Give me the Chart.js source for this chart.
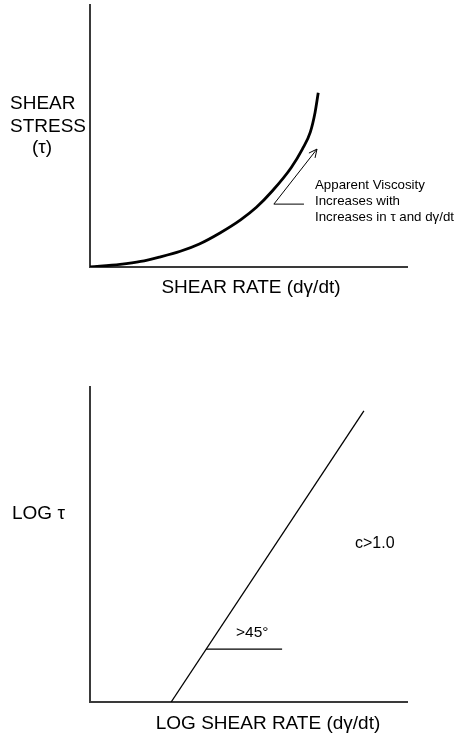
<!DOCTYPE html>
<html>
<head>
<meta charset="utf-8">
<script src="https://cdn.jsdelivr.net/npm/chart.js@4.4.1/dist/chart.umd.min.js"></script>
<style>
  body { margin: 0; background: #fff; width: 456px; height: 733px; overflow: hidden; }
  canvas { position: absolute; left: 0; }
  #top { top: 0; }
  #bottom { top: 300px; }
</style>
</head>
<body>
<canvas id="top" width="456" height="300"></canvas>
<canvas id="bottom" width="456" height="433"></canvas>
<script>
// top panel: shear stress vs shear rate (arbitrary units 0-10)
var shearRate = [0, 0.95, 1.6, 2.2, 2.85, 3.45, 4.1, 4.75, 5.25, 5.75, 6.35, 6.7, 6.95, 7.1, 7.2];
var shearStress = [0, 0.1, 0.21, 0.38, 0.6, 0.88, 1.3, 1.8, 2.28, 2.9, 3.8, 4.5, 5.15, 5.9, 6.65];
var arrowX = [5.8, 7.16];
var arrowY = [2.4, 4.5];
var arrowTailX = [5.8, 6.75];
var arrowTailY = [2.4, 2.4];

// bottom panel: log shear stress vs log shear rate
var logRate = [2.56, 8.64];
var logStress = [0, 9.24];
var angleRefX = [3.66, 6.06];
var angleRefY = [1.68, 1.68];

var FONT = '"Liberation Sans", Arial, sans-serif';

var toPoints = function(xs, ys) {
	return xs.map(function(x, i) {
		return { x: x, y: ys[i] };
	});
};

var lineSet = function(xs, ys, width, smooth) {
	return {
		data: toPoints(xs, ys),
		showLine: true,
		borderColor: '#000',
		borderWidth: width,
		pointRadius: 0,
		cubicInterpolationMode: smooth ? 'monotone' : 'default',
		tension: smooth ? 0.4 : 0,
		borderCapStyle: 'butt',
		fill: false
	};
};

var axisOpts = function() {
	return {
		type: 'linear',
		min: 0,
		max: 10,
		grid: { display: false, drawTicks: false },
		ticks: { display: false },
		border: { display: true, color: '#3a3a3a', width: 2 }
	};
};

// @desc draws text labels (and optional arrow head) after datasets
var textPlugin = function(labels, arrow) {
	return {
		id: 'texts',
		afterDatasetsDraw: function(chart) {
			var ctx = chart.ctx;
			ctx.save();
			ctx.fillStyle = '#000';
			ctx.textBaseline = 'alphabetic';
			labels.forEach(function(l) {
				ctx.font = l.size + 'px ' + FONT;
				ctx.textAlign = l.align || 'left';
				ctx.fillText(l.text, l.x, l.y);
			});
			if (arrow) {
				var xs = chart.scales.x, ys = chart.scales.y;
				var x0 = xs.getPixelForValue(arrow.x[0]), y0 = ys.getPixelForValue(arrow.y[0]);
				var x1 = xs.getPixelForValue(arrow.x[1]), y1 = ys.getPixelForValue(arrow.y[1]);
				var a = Math.atan2(y1 - y0, x1 - x0);
				var len = 9, spread = 0.45;
				ctx.strokeStyle = '#000';
				ctx.lineWidth = 1;
				ctx.beginPath();
				ctx.moveTo(x1 - len * Math.cos(a - spread), y1 - len * Math.sin(a - spread));
				ctx.lineTo(x1, y1);
				ctx.lineTo(x1 - len * Math.cos(a + spread), y1 - len * Math.sin(a + spread));
				ctx.stroke();
			}
			ctx.restore();
		}
	};
};

var baseOptions = function(padding) {
	return {
		responsive: false,
		animation: false,
		events: [],
		layout: { padding: padding },
		plugins: { legend: { display: false }, tooltip: { enabled: false } },
		scales: { x: axisOpts(), y: axisOpts() }
	};
};

new Chart(document.getElementById('top'), {
	type: 'scatter',
	data: {
		datasets: [
			lineSet(shearRate, shearStress, 2.8, true),
			lineSet(arrowX, arrowY, 1),
			lineSet(arrowTailX, arrowTailY, 1)
		]
	},
	options: baseOptions({ left: 90, right: 49, top: 5, bottom: 33 }),
	plugins: [textPlugin([
		{ text: 'SHEAR', x: 10, y: 109, size: 19 },
		{ text: 'STRESS', x: 10, y: 132, size: 19 },
		{ text: '(\u03c4)', x: 32, y: 153, size: 19 },
		{ text: 'SHEAR RATE (d\u03b3/dt)', x: 251, y: 293, size: 19, align: 'center' },
		{ text: 'Apparent Viscosity', x: 315, y: 189, size: 13.3 },
		{ text: 'Increases with', x: 315, y: 205, size: 13.3 },
		{ text: 'Increases in \u03c4 and d\u03b3/dt', x: 315, y: 221, size: 13.3 }
	], { x: arrowX, y: arrowY })]
});

new Chart(document.getElementById('bottom'), {
	type: 'scatter',
	data: {
		datasets: [
			lineSet(logRate, logStress, 1.3),
			lineSet(angleRefX, angleRefY, 1.3)
		]
	},
	options: baseOptions({ left: 90, right: 49, top: 87, bottom: 31 }),
	plugins: [textPlugin([
		{ text: 'LOG \u03c4', x: 12, y: 219, size: 19 },
		{ text: 'c>1.0', x: 355, y: 248, size: 16 },
		{ text: '>45\u00b0', x: 236, y: 337, size: 15.5 },
		{ text: 'LOG SHEAR RATE (d\u03b3/dt)', x: 268, y: 429, size: 19, align: 'center' }
	])]
});
</script>
</body>
</html>
